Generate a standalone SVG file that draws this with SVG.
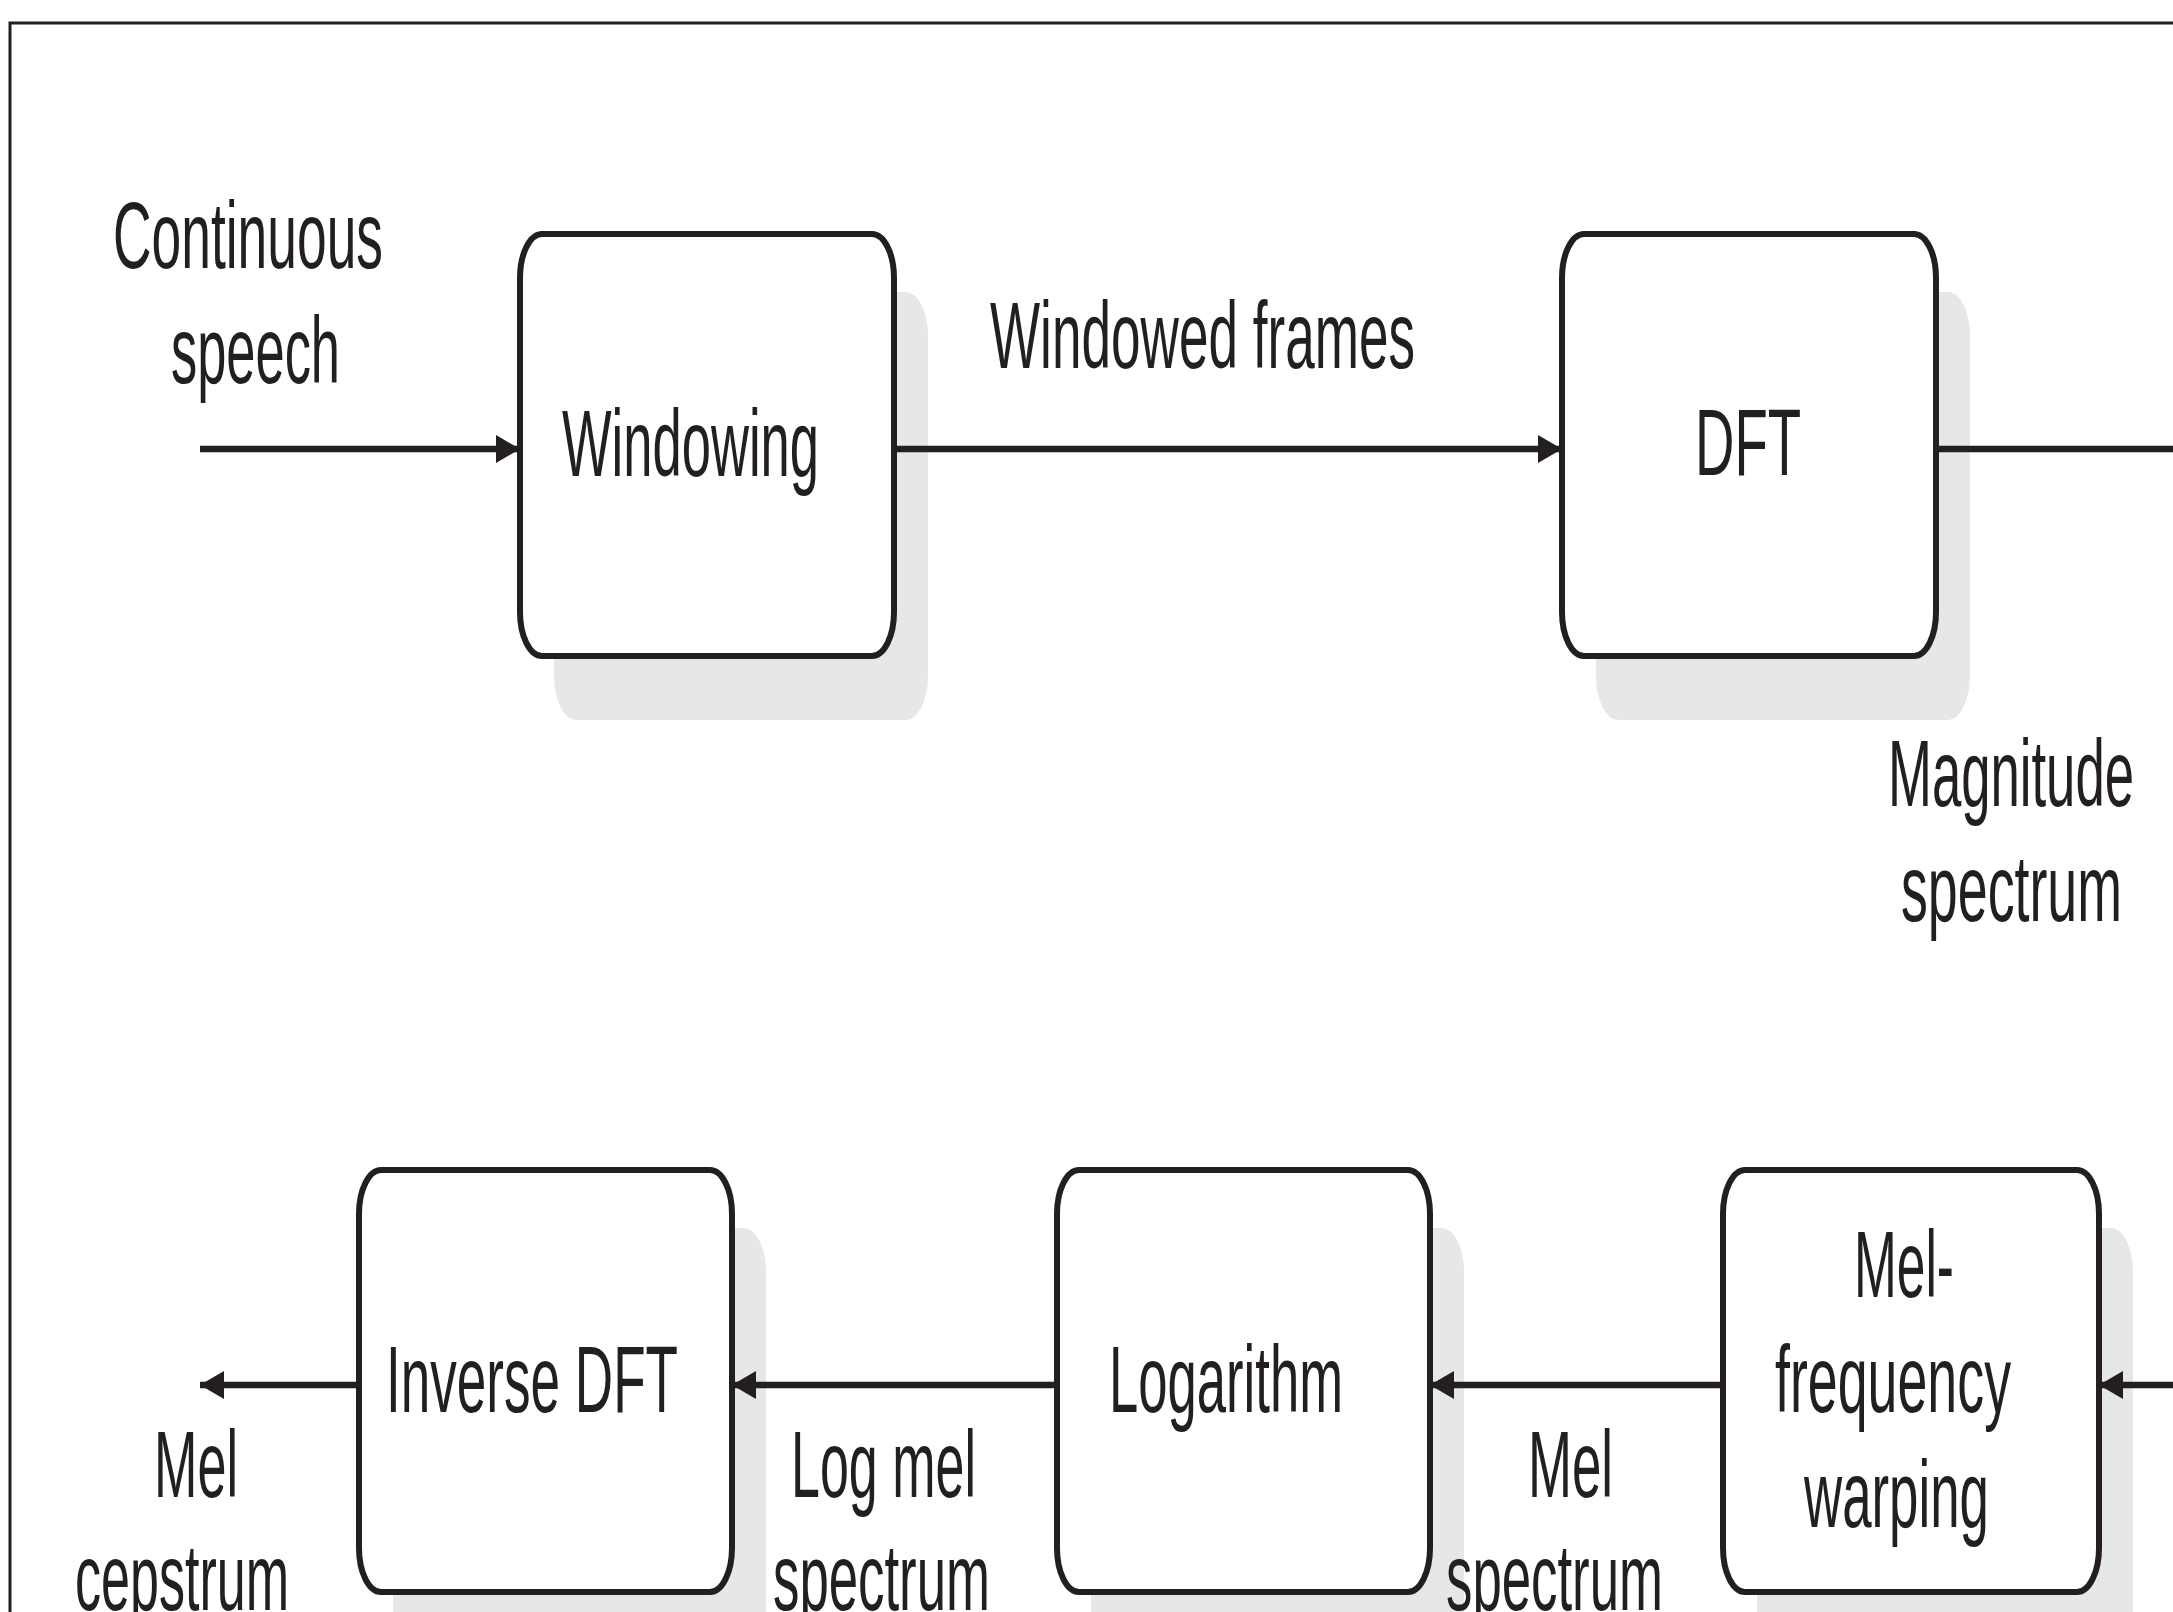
<svg xmlns="http://www.w3.org/2000/svg" width="2173" height="1612" viewBox="0 0 2173 1612">
<defs>
<style>
.bg{fill:#ffffff}
.frame{fill:none;stroke:#231f20;stroke-width:3}
.shadow{fill:#e6e7e8}
.box{fill:#ffffff;stroke:#231f20;stroke-width:6}
.conn{fill:none;stroke:#231f20;stroke-width:6.5}
text{font-family:"Liberation Sans",Arial,sans-serif;font-size:95px;fill:#231f20}
</style>
<marker id="arr" markerUnits="userSpaceOnUse" viewBox="0 0 24 28" refX="24" refY="14" markerWidth="24" markerHeight="28" orient="auto">
<path d="M0,0 L24,14 L0,28 z" fill="#231f20"/>
</marker>
</defs>
<rect class="bg" x="0" y="0" width="2173" height="1612"/>
<path class="frame" d="M10,1612 V23 H2173"/>

<g id="node-windowing">
<rect class="shadow" x="554" y="292" width="374" height="428" rx="22" ry="44"/>
<rect class="box" x="520" y="234" width="374" height="422" rx="22" ry="44"/>
<text x="562" y="476" textLength="257" lengthAdjust="spacingAndGlyphs">Windowing</text>
</g>

<g id="node-dft">
<rect class="shadow" x="1596" y="292" width="374" height="428" rx="22" ry="44"/>
<rect class="box" x="1562" y="234" width="374" height="422" rx="22" ry="44"/>
<text x="1695" y="475" textLength="106" lengthAdjust="spacingAndGlyphs">DFT</text>
</g>

<g id="node-inverse-dft">
<rect class="shadow" x="393" y="1228" width="373" height="428" rx="22" ry="44"/>
<rect class="box" x="359" y="1170" width="373" height="422" rx="22" ry="44"/>
<text x="386" y="1412" textLength="292" lengthAdjust="spacingAndGlyphs">Inverse DFT</text>
</g>

<g id="node-logarithm">
<rect class="shadow" x="1091" y="1228" width="373" height="428" rx="22" ry="44"/>
<rect class="box" x="1057" y="1170" width="373" height="422" rx="22" ry="44"/>
<text x="1109" y="1412" textLength="234" lengthAdjust="spacingAndGlyphs">Logarithm</text>
</g>

<g id="node-mel-warping">
<rect class="shadow" x="1757" y="1228" width="376" height="428" rx="22" ry="44"/>
<rect class="box" x="1723" y="1170" width="376" height="422" rx="22" ry="44"/>
<text x="1854" y="1297" textLength="100" lengthAdjust="spacingAndGlyphs">Mel-</text>
<text x="1775" y="1412" textLength="236" lengthAdjust="spacingAndGlyphs">frequency</text>
<text x="1804" y="1527" textLength="185" lengthAdjust="spacingAndGlyphs">warping</text>
</g>

<g id="connectors">
<path class="conn" d="M200,449 H520" marker-end="url(#arr)"/>
<path class="conn" d="M894,449 H1562" marker-end="url(#arr)"/>
<path class="conn" d="M1936,449 H2173"/>
<path class="conn" d="M2173,1385 H2099" marker-end="url(#arr)"/>
<path class="conn" d="M1723,1385 H1430" marker-end="url(#arr)"/>
<path class="conn" d="M1057,1385 H732" marker-end="url(#arr)"/>
<path class="conn" d="M359,1385 H200" marker-end="url(#arr)"/>
</g>

<g id="labels">
<text x="113" y="268" textLength="270" lengthAdjust="spacingAndGlyphs">Continuous</text>
<text x="171" y="383" textLength="169" lengthAdjust="spacingAndGlyphs">speech</text>
<text x="990" y="368" textLength="425" lengthAdjust="spacingAndGlyphs">Windowed frames</text>
<text x="1888" y="806" textLength="246" lengthAdjust="spacingAndGlyphs">Magnitude</text>
<text x="1901" y="921" textLength="221" lengthAdjust="spacingAndGlyphs">spectrum</text>
<text x="154" y="1497" textLength="84" lengthAdjust="spacingAndGlyphs">Mel</text>
<text x="75" y="1610" textLength="214" lengthAdjust="spacingAndGlyphs">cepstrum</text>
<text x="791" y="1497" textLength="185" lengthAdjust="spacingAndGlyphs">Log mel</text>
<text x="773" y="1610" textLength="217" lengthAdjust="spacingAndGlyphs">spectrum</text>
<text x="1528" y="1497" textLength="85" lengthAdjust="spacingAndGlyphs">Mel</text>
<text x="1446" y="1610" textLength="217" lengthAdjust="spacingAndGlyphs">spectrum</text>
</g>
</svg>
